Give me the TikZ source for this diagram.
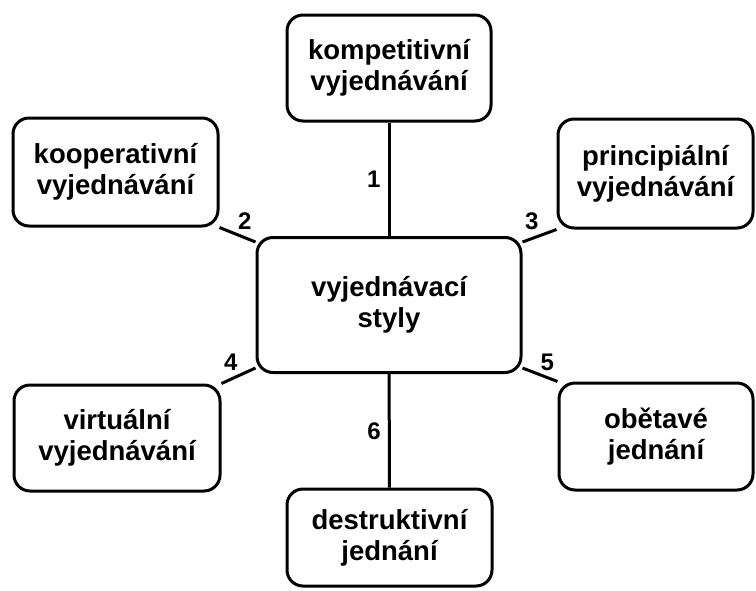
\documentclass[tikz,border=0pt]{standalone}
\usepackage{fontspec}
\setmainfont{Liberation Sans}
\usetikzlibrary{backgrounds}

\begin{document}
\begin{tikzpicture}[x=1pt,y=-1pt,line width=3pt,
        box/.style={draw,fill=white,rounded corners=16pt,align=center,inner sep=2pt,font=\fontsize{27.5}{31}\selectfont\bfseries},
        link/.style={line width=3pt},
        num/.style={inner sep=1pt,font=\fontsize{24}{28}\selectfont\bfseries}]
        \useasboundingbox (0,0) rectangle (756,590);
        \node[box,minimum width=264pt,minimum height=135pt] (styly) at (389,305) {vyjednávací\\styly};
        \node[box,minimum width=204pt,minimum height=106pt] (komp) at (389,68) {kompetitivní\\vyjednávání};
        \node[box,minimum width=205pt,minimum height=108pt] (koop) at (115.5,172) {kooperativní\\vyjednávání};
        \node[box,minimum width=195pt,minimum height=109pt] (princ) at (655.5,173.5) {principiální\\vyjednávání};
        \node[box,minimum width=206pt,minimum height=106pt] (virt) at (117,438) {virtuální\\vyjednávání};
        \node[box,minimum width=194pt,minimum height=107pt] (obet) at (656,436.5) {obětavé\\jednání};
        \node[box,minimum width=205pt,minimum height=97pt] (destr) at (389.5,537.5) {destruktivní\\jednání};
        \begin{scope}[on background layer]
            \draw[link] (komp) -- (styly) node[num,midway,left=6pt] {1};
            \draw[link] (koop.south east) -- ([yshift=-6pt]styly.north west) node[num,pos=0.7,above=6pt] {2};
            \draw[link] ([yshift=-6pt]styly.north east) -- (princ.south west) node[num,pos=0.27,above=6pt] {3};
            \draw[link] (virt.north east) -- ([yshift=6pt]styly.south west) node[num,pos=0.27,above=6pt] {4};
            \draw[link] ([yshift=6pt]styly.south east) -- (obet.north west) node[num,pos=0.71,above=4pt] {5};
            \draw[link] (styly) -- (destr) node[num,midway,left=6pt] {6};
        \end{scope}
    \end{tikzpicture}
\end{document}
